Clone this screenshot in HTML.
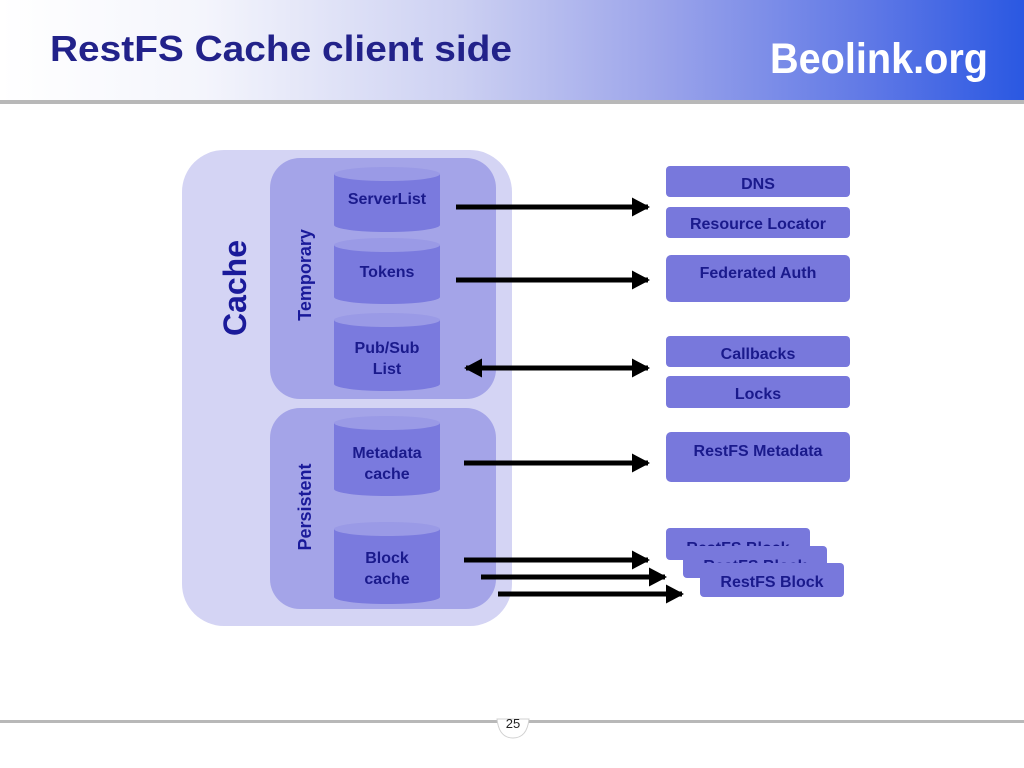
<!DOCTYPE html>
<html><head><meta charset="utf-8"><style>
html,body{margin:0;padding:0;width:1024px;height:768px;overflow:hidden;background:#fff}
svg{display:block}
text{font-family:"Liberation Sans",Arial,sans-serif;font-weight:bold}
</style></head><body>
<svg width="1024" height="768" viewBox="0 0 1024 768" xmlns="http://www.w3.org/2000/svg">
<defs>
<linearGradient id="hg" x1="0" x2="1" y1="0" y2="0">
<stop offset="0" stop-color="#ffffff"/>
<stop offset="0.2" stop-color="#f4f5fc"/>
<stop offset="0.45" stop-color="#ccd0f2"/>
<stop offset="0.65" stop-color="#9aa3ea"/>
<stop offset="0.85" stop-color="#5f78e6"/>
<stop offset="1" stop-color="#2a58e2"/>
</linearGradient>
<marker id="ah" markerWidth="18" markerHeight="19" refX="16" refY="9.5" orient="auto" markerUnits="userSpaceOnUse" viewBox="0 0 18 19">
<path d="M0,0 L18,9.5 L0,19 Z" fill="#000"/>
</marker>
<marker id="at" markerWidth="18" markerHeight="19" refX="2" refY="9.5" orient="auto" markerUnits="userSpaceOnUse" viewBox="0 0 18 19">
<path d="M18,0 L0,9.5 L18,19 Z" fill="#000"/>
</marker>
</defs>
<rect x="0" y="0" width="1024" height="100" fill="url(#hg)"/>
<rect x="0" y="100" width="1024" height="4" fill="#b8b8b8"/>
<text x="50" y="61" font-size="36" fill="#22228a" textLength="462" lengthAdjust="spacingAndGlyphs">RestFS Cache client side</text>
<text x="770" y="73" font-size="43" fill="#ffffff" textLength="218" lengthAdjust="spacingAndGlyphs">Beolink.org</text>

<rect x="182" y="150" width="330" height="476" rx="42" fill="#d4d4f4"/>
<rect x="270" y="158" width="226" height="241" rx="30" fill="#a4a4e8"/>
<rect x="270" y="408" width="226" height="201" rx="30" fill="#a4a4e8"/>
<text transform="translate(246,288) rotate(-90)" font-size="32" fill="#1a1a9a" text-anchor="middle">Cache</text>
<text transform="translate(311,275) rotate(-90)" font-size="18" fill="#1a1a9a" text-anchor="middle">Temporary</text>
<text transform="translate(311,507) rotate(-90)" font-size="18" fill="#1a1a9a" text-anchor="middle">Persistent</text>

<g fill="#7a7ade">
<path d="M334,174 V225 A53,7 0 0 0 440,225 V174 Z"/>
<path d="M334,245 V297 A53,7 0 0 0 440,297 V245 Z"/>
<path d="M334,320 V384 A53,7 0 0 0 440,384 V320 Z"/>
<path d="M334,423 V489 A53,7 0 0 0 440,489 V423 Z"/>
<path d="M334,529 V597 A53,7 0 0 0 440,597 V529 Z"/>
</g>
<g fill="#9a9ae6">
<ellipse cx="387" cy="174" rx="53" ry="7"/>
<ellipse cx="387" cy="245" rx="53" ry="7"/>
<ellipse cx="387" cy="320" rx="53" ry="7"/>
<ellipse cx="387" cy="423" rx="53" ry="7"/>
<ellipse cx="387" cy="529" rx="53" ry="7"/>
</g>
<g font-size="16" fill="#1a1a8c" text-anchor="middle">
<text x="387" y="204">ServerList</text>
<text x="387" y="277">Tokens</text>
<text x="387" y="353">Pub/Sub</text>
<text x="387" y="374">List</text>
<text x="387" y="458">Metadata</text>
<text x="387" y="479">cache</text>
<text x="387" y="563">Block</text>
<text x="387" y="584">cache</text>
</g>

<g stroke="#000" stroke-width="5">
<line x1="456" y1="207" x2="648" y2="207" marker-end="url(#ah)"/>
<line x1="456" y1="280" x2="648" y2="280" marker-end="url(#ah)"/>
<line x1="466" y1="368" x2="648" y2="368" marker-end="url(#ah)" marker-start="url(#at)"/>
<line x1="464" y1="463" x2="648" y2="463" marker-end="url(#ah)"/>
<line x1="464" y1="560" x2="648" y2="560" marker-end="url(#ah)"/>
<line x1="481" y1="577" x2="665" y2="577" marker-end="url(#ah)"/>
<line x1="498" y1="594" x2="682" y2="594" marker-end="url(#ah)"/>
</g>

<g fill="#7878dc">
<rect x="666" y="166" width="184" height="31" rx="4"/>
<rect x="666" y="207" width="184" height="31" rx="4"/>
<rect x="666" y="255" width="184" height="47" rx="5"/>
<rect x="666" y="336" width="184" height="31" rx="4"/>
<rect x="666" y="376" width="184" height="32" rx="4"/>
<rect x="666" y="432" width="184" height="50" rx="5"/>
<rect x="666" y="528" width="144" height="32" rx="4"/>
<rect x="683" y="546" width="144" height="32" rx="4"/>
<rect x="700" y="563" width="144" height="34" rx="4"/>
</g>
<g font-size="16" fill="#1a1a8c" text-anchor="middle">
<text x="758" y="189">DNS</text>
<text x="758" y="229">Resource Locator</text>
<text x="758" y="278">Federated Auth</text>
<text x="758" y="359">Callbacks</text>
<text x="758" y="399">Locks</text>
<text x="758" y="456">RestFS Metadata</text>
<text x="772" y="587">RestFS Block</text>
</g>
<g font-size="16" fill="#1a1a8c" text-anchor="middle">
<svg x="666" y="528" width="144" height="18" overflow="hidden"><text x="72" y="25">RestFS Block</text></svg>
<svg x="683" y="546" width="144" height="17" overflow="hidden"><text x="72" y="25">RestFS Block</text></svg>
</g>

<rect x="0" y="720" width="1024" height="3" fill="#b8b8b8"/>
<path d="M497,719 Q499,738 513,738 Q527,738 529,719 Z" fill="#fff" stroke="#d0d0d0" stroke-width="1"/>
<text x="513" y="728" font-size="13" style="font-weight:normal" fill="#222" text-anchor="middle">25</text>
</svg>
</body></html>
